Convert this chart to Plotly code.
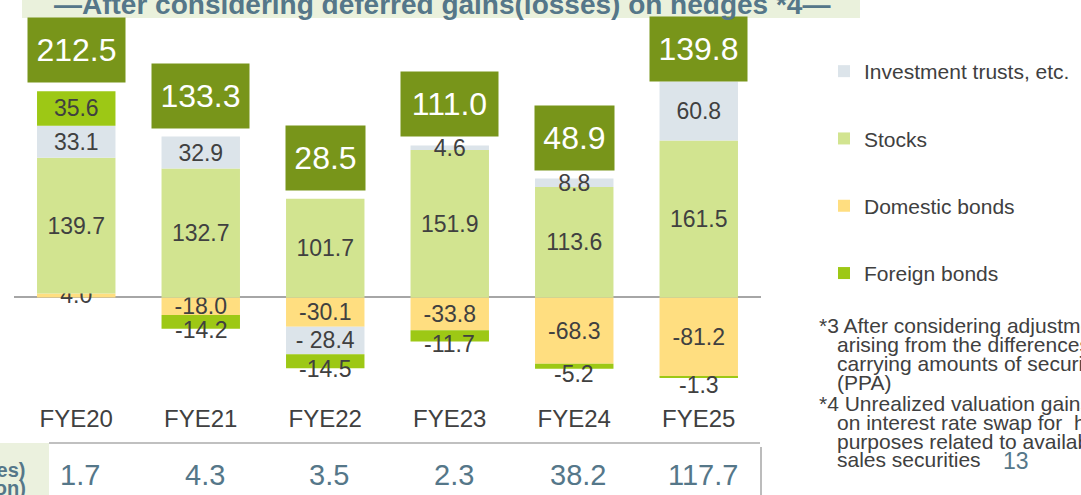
import plotly.graph_objects as go

years = ["FYE20", "FYE21", "FYE22", "FYE23", "FYE24", "FYE25"]

investment_trusts = [33.1, 32.9, -28.4, 4.6, 8.8, 60.8]
stocks = [139.7, 132.7, 101.7, 151.9, 113.6, 161.5]
domestic_bonds = [4.0, -18.0, -30.1, -33.8, -68.3, -81.2]
foreign_bonds = [35.6, -14.2, -14.5, -11.7, -5.2, -1.3]
totals = [212.5, 133.3, 28.5, 111.0, 48.9, 139.8]
hedge_gains = [1.7, 4.3, 3.5, 2.3, 38.2, 117.7]

title_text = "—After considering deferred gains(losses) on hedges *4—"
footnotes = [
    ("*3 After considering adjustments", 0),
    ("arising from the differences between the", 1),
    ("carrying amounts of securities at merger", 1),
    ("(PPA)", 1),
    ("*4 Unrealized valuation gains (losses)", 0),
    ("on interest rate swap for  hedging", 1),
    ("purposes related to available-for-", 1),
    ("sales securities", 1),
]

FONT = "Arial, Liberation Sans, sans-serif"
DARK = "#404040"
SLATE = "#557789"
OLIVE = "#78951A"

# plot area in pixels (1081 x 495 page)
W, H = 1081, 495
L, R, T, B = 14, 761, 0, 402
ZERO_PX = 297.4
PX_PER_UNIT = 0.971


def paper_x(px):
    return (px - L) / (R - L)


def paper_y(py):
    return (B - py) / (B - T)


def fmt(v, gap=""):
    return f"{v:.1f}" if v >= 0 else f"-{gap}{abs(v):.1f}"


def note(px, py, text, size, color, xanchor="center", yanchor="middle"):
    fig.add_annotation(xref="paper", yref="paper", x=paper_x(px), y=paper_y(py),
                       xanchor=xanchor, yanchor=yanchor, text=text, showarrow=False,
                       font=dict(family=FONT, size=size, color=color))


fig = go.Figure()

series = [
    ("Domestic bonds", domestic_bonds, "#FFDE80", 3),
    ("Stocks", stocks, "#D2E490", 2),
    ("Investment trusts, etc.", investment_trusts, "#DCE4EA", 1),
    ("Foreign bonds", foreign_bonds, "#9DC815", 4),
]

for name, values, color, rank in series:
    if name == "Foreign bonds":
        text = [fmt(v) if v >= 0 else "" for v in values]
    elif name == "Investment trusts, etc.":
        text = [fmt(v, " ") for v in values]
    else:
        text = [fmt(v) for v in values]
    fig.add_bar(
        x=years, y=values, name=name, marker=dict(color=color, line=dict(width=0)),
        text=text, textposition="inside", insidetextanchor="middle", textangle=0,
        constraintext="none", cliponaxis=False,
        textfont=dict(family=FONT, size=23, color=DARK),
        legendgroup=name, legendrank=rank,
    )

# labels of small negative foreign-bond slices sit just under their slice
for i, v in enumerate(foreign_bonds):
    if v < 0:
        above = sum(s[i] for s in (domestic_bonds, investment_trusts) if s[i] < 0)
        fig.add_annotation(
            x=years[i], y=above + v / 2, yanchor="middle", text=fmt(v), showarrow=False, yshift=-8,
            font=dict(family=FONT, size=23, color=DARK),
        )

# total boxes
cap = (ZERO_PX - 82) / PX_PER_UNIT
for i, total in enumerate(totals):
    top = sum(s[i] for s in (investment_trusts, stocks, domestic_bonds, foreign_bonds) if s[i] > 0)
    label = f"{total:.1f}"
    fig.add_annotation(
        x=years[i], y=min(top + 8 / PX_PER_UNIT, cap), yanchor="bottom", text=label,
        showarrow=False, bgcolor=OLIVE, borderpad=0, height=64,
        width=97 if len(label) > 4 else 79,
        font=dict(family=FONT, size=32, color="white"),
    )

# table row below the axis
for year, v in zip(years, hedge_gains):
    fig.add_annotation(
        x=year, xshift=4, yref="paper", y=paper_y(475), yanchor="middle", text=f"{v:.1f}",
        showarrow=False, font=dict(family=FONT, size=29, color=SLATE),
    )
fig.add_shape(type="rect", xref="paper", yref="paper", x0=paper_x(-2), x1=paper_x(49),
              y0=paper_y(443), y1=paper_y(497), fillcolor="#EBF1DE", line=dict(width=0), layer="below")
fig.add_shape(type="line", xref="paper", yref="paper", x0=paper_x(49), x1=paper_x(760),
              y0=paper_y(443), y1=paper_y(443), line=dict(color="#C0C0C0", width=2))
fig.add_shape(type="line", xref="paper", yref="paper", x0=paper_x(761), x1=paper_x(761),
              y0=paper_y(447), y1=paper_y(497), line=dict(color="#A6A6A6", width=1.5))
note(28, 470, "<b>Unrealized gains(losses)</b>", 20, SLATE, xanchor="right")
note(28, 488, "<b>(¥ billion)</b>", 20, SLATE, xanchor="right")

# title banner, cut by the top of the page
fig.add_shape(type="rect", xref="paper", yref="paper", x0=paper_x(22), x1=paper_x(860),
              y0=paper_y(18), y1=paper_y(-5), fillcolor="#EAF1DC", line=dict(width=0), layer="below")
note(442, 22, f"<b>{title_text}</b>", 28, SLATE, yanchor="bottom")

# footnotes on the right
for k, (line, indent) in enumerate(footnotes):
    note(835 if indent else 817, 325 + 19 * k + (2 if k >= 4 else 0), line, 21, DARK, xanchor="left")
note(1016, 461, "13", 23, SLATE)

fig.update_layout(
    width=W, height=H, barmode="relative", bargap=0.37,
    margin=dict(l=L, r=W - R, t=T, b=H - B, autoexpand=False),
    plot_bgcolor="white", paper_bgcolor="white",
    font=dict(family=FONT, color=DARK),
    legend=dict(x=paper_x(824), y=paper_y(51), xanchor="left", yanchor="top",
                font=dict(family=FONT, size=21, color=DARK), tracegroupgap=37,
                bgcolor="rgba(0,0,0,0)"),
    xaxis=dict(showgrid=False, showline=False, ticks="", tickfont=dict(family=FONT, size=24, color=DARK)),
    yaxis=dict(range=[-(B - ZERO_PX) / PX_PER_UNIT, (ZERO_PX - T) / PX_PER_UNIT],
               showgrid=False, showticklabels=False, zeroline=True,
               zerolinecolor="#A6A6A6", zerolinewidth=2),
)

# the page's default body margin would push the figure 8px right and down
fig.write_html("out.html", config={"displayModeBar": False},
               post_script="document.body.style.margin = '0';")
